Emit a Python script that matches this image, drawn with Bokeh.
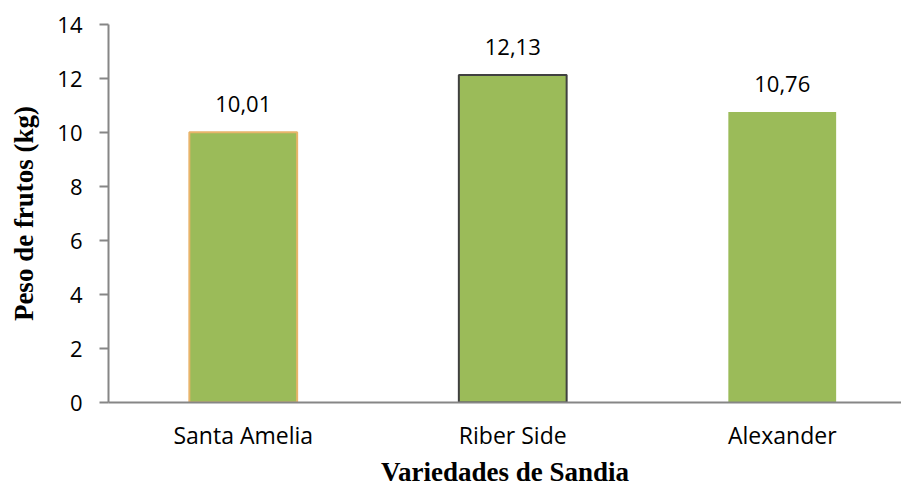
from bokeh.plotting import figure
from bokeh.models import ColumnDataSource, Range1d, FixedTicker, LinearAxis
from bokeh.core.properties import value
from bokeh.embed import file_html
from bokeh.resources import INLINE

categories = ["Santa Amelia", "Riber Side", "Alexander"]
peso = [10.01, 12.13, 10.76]
labels = ["10,01", "12,13", "10,76"]
y_ticks = [0, 2, 4, 6, 8, 10, 12, 14]

border_colors = ["#E8B46A", "#404040", "#9BBB59"]
border_widths = [2, 2, 0]

xs = list(range(len(categories)))
src = ColumnDataSource(dict(x=xs, y=peso, lab=labels, lc=border_colors, lw=border_widths))

p = figure(width=901, height=489, output_backend="svg", toolbar_location=None,
           x_range=Range1d(-0.5, 2.4425), y_range=Range1d(0, 14),
           min_border_left=108, min_border_right=0, min_border_top=24, min_border_bottom=85,
           x_axis_location=None, y_axis_location=None)
p.outline_line_color = None
p.grid.visible = False
p.background_fill_color = "white"
p.border_fill_color = "white"

p.vbar(x="x", top="y", width=0.40, source=src, fill_color="#9BBB59",
       line_color="lc", line_width="lw")

p.text(x="x", y="y", text="lab", source=src, y_offset=-28, text_align="center",
       text_baseline="middle", text_font=value("Open Sans"), text_font_size="22px",
       text_color="black")

yax = LinearAxis(ticker=FixedTicker(ticks=y_ticks))
yax.axis_line_color = "#868686"
yax.axis_line_width = 2
yax.major_tick_line_color = "#868686"
yax.major_tick_line_width = 2
yax.major_tick_out = 9
yax.major_tick_in = 0
yax.minor_tick_line_color = None
yax.major_label_text_font = "Open Sans"
yax.major_label_text_font_size = "22px"
yax.major_label_text_color = "black"
yax.major_label_standoff = 17
yax.axis_label = "Peso de frutos (kg)"
yax.axis_label_text_font = "Liberation Serif"
yax.axis_label_text_font_style = "bold"
yax.axis_label_text_font_size = "27px"
yax.axis_label_text_color = "black"
yax.axis_label_standoff = 15
p.add_layout(yax, "left")

xax = LinearAxis(ticker=FixedTicker(ticks=xs),
                 major_label_overrides={i: c for i, c in enumerate(categories)})
xax.axis_line_color = "#868686"
xax.axis_line_width = 2
xax.major_tick_line_color = None
xax.minor_tick_line_color = None
xax.major_label_text_font = "Open Sans"
xax.major_label_text_font_size = "23px"
xax.major_label_text_color = "black"
xax.major_label_standoff = 10
xax.axis_label = "Variedades de Sandia"
xax.axis_label_text_font = "Liberation Serif"
xax.axis_label_text_font_style = "bold"
xax.axis_label_text_font_size = "27px"
xax.axis_label_text_color = "black"
xax.axis_label_standoff = 3
p.add_layout(xax, "below")

open("out.html", "w").write(file_html(p, INLINE))
